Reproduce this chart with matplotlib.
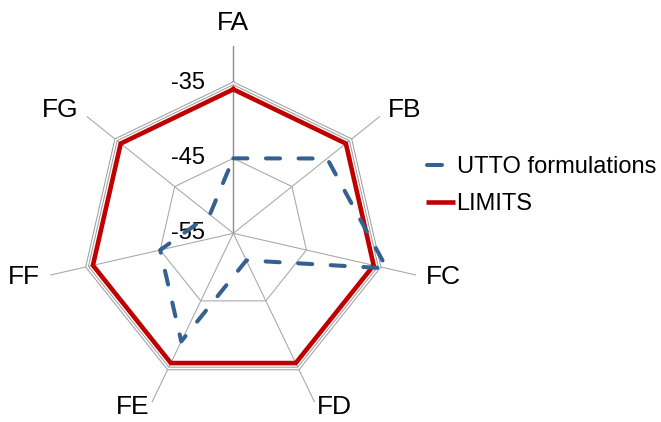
import numpy as np
import matplotlib
matplotlib.use("Agg")
import matplotlib.pyplot as plt
from matplotlib.lines import Line2D
from matplotlib.transforms import offset_copy

plt.rcParams["font.family"] = ["Liberation Sans", "DejaVu Sans"]

# ---- data ----
categories = ["FA", "FB", "FC", "FD", "FE", "FF", "FG"]
utto_values = [-45, -39, -34, -51, -39, -45, -51]
limit_values = [-35.8, -35.8, -35.8, -35.8, -35.8, -35.8, -35.8]
ring_ticks = [-55, -45, -35]
r_min, r_max = -55, -30

blue = "#34618F"
red = "#C00000"
grid_col = "#A6A6A6"

fig = plt.figure(figsize=(6.61, 4.22), dpi=100)
ax = fig.add_axes([0.0693, 0.0028, 0.5673, 0.8886], projection="polar")
ax.set_theta_offset(np.pi / 2)
ax.set_theta_direction(-1)
ax.set_ylim(r_min, r_max)
ax.set_axis_off()

n = len(categories)
theta = np.linspace(0, 2 * np.pi, n, endpoint=False)
theta_c = np.append(theta, theta[0])

def closed(vals):
    return np.append(vals, vals[0])

# spokes
for i, t in enumerate(theta):
    col = "#8C8C8C" if i == 0 else grid_col
    lw = 1.0 if i == 0 else 0.75
    ax.plot([t, t], [r_min, r_max], color=col, lw=lw, zorder=1)

# polygon gridlines
for v in ring_ticks[1:-1]:
    ax.plot(theta_c, [v] * (n + 1), color=grid_col, lw=0.75, zorder=1)
outer = ring_ticks[-1]
ax.plot(theta_c, [outer] * (n + 1), color="#A0A0A0", lw=2.6, zorder=1,
        solid_joinstyle="miter")
ax.plot(theta_c, [outer] * (n + 1), color="white", lw=1.1, zorder=1.1,
        solid_joinstyle="miter")

# value axis labels along FA spoke
tick_tf = offset_copy(ax.transData, fig=fig, x=-28, y=0, units="dots")
for v in ring_ticks:
    ax.text(0, v, f"{v}", transform=tick_tf, ha="right", va="center",
            fontsize=17, color="black", zorder=2)

# series
ax.plot(theta_c, closed(limit_values), color=red, lw=3.3, zorder=3,
        solid_joinstyle="miter")
ax.plot(theta_c, closed(utto_values), color=blue, lw=2.9, zorder=4,
        linestyle=(0, (3.5, 4.6)), dash_capstyle="round",
        dash_joinstyle="round")

# category labels
for t, name in zip(theta, categories):
    x, y = np.sin(t), np.cos(t)
    ha = "left" if x > 0.1 else ("right" if x < -0.1 else "center")
    va = "bottom" if y > 0.9 else "center"
    label_r = -29.3 if y < -0.5 else -28.6
    ax.text(t, label_r, name, ha=ha, va=va, fontsize=19, color="black",
            clip_on=False)

# legend
W, H = 661, 422
def fx(px):
    return px / W
def fy(py):
    return 1 - py / H

fig.add_artist(Line2D([fx(427), fx(442)], [fy(164.7)] * 2, color=blue,
                      lw=2.9, solid_capstyle="round",
                      transform=fig.transFigure))
fig.text(fx(457), fy(173.3), "UTTO formulations", fontsize=17,
         ha="left", va="baseline")
fig.add_artist(Line2D([fx(426), fx(455)], [fy(201.7)] * 2, color=red,
                      lw=3.3, solid_capstyle="butt",
                      transform=fig.transFigure))
fig.text(fx(456), fy(210.5), "LIMITS", fontsize=17, ha="left",
         va="baseline")

fig.savefig("out.png", dpi=100)
